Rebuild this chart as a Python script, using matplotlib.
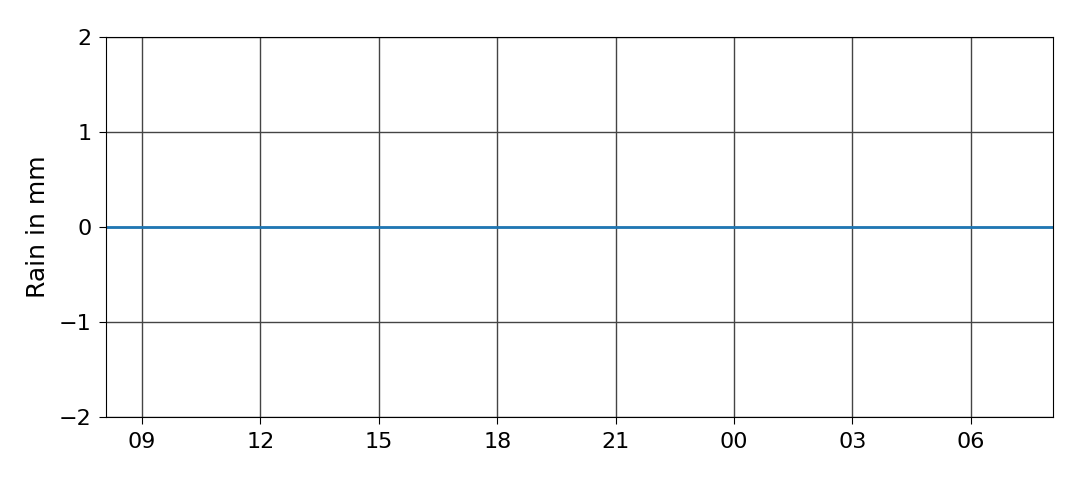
import matplotlib
matplotlib.use("Agg")
import matplotlib.pyplot as plt
import matplotlib.dates as mdates
import pandas as pd
import numpy as np

times = pd.date_range("2023-06-01 08:05", "2023-06-02 08:05", freq="1h")
rain_mm = [0.0] * len(times)

fig = plt.figure(figsize=(10.8, 4.8), dpi=100)
ax = fig.add_axes([0.098, 0.131, 0.877, 0.792])
ax.plot(times, rain_mm, color="#1f77b4", linewidth=2)
ax.set_xlim(times[0], times[-1])
ax.set_ylim(-2, 2)
ax.set_yticks([-2, -1, 0, 1, 2])
ax.xaxis.set_major_locator(mdates.HourLocator(byhour=range(0, 24, 3)))
ax.xaxis.set_major_formatter(mdates.DateFormatter("%H"))
ax.grid(True, color="#444444", linewidth=1)
ax.set_axisbelow(True)
ax.tick_params(labelsize=16, length=4.9, pad=5.5)
ax.set_ylabel("Rain in mm", fontsize=18, labelpad=6)
fig.savefig("out.png", dpi=100)
